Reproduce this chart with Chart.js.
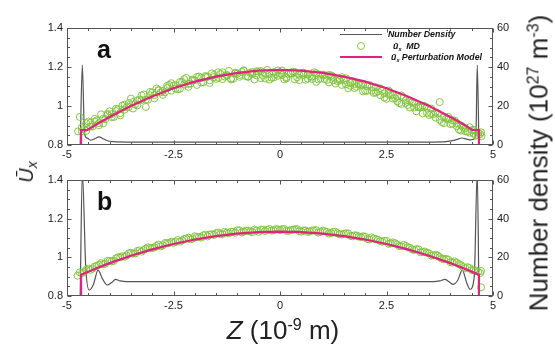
<!DOCTYPE html>
<html><head><meta charset="utf-8">
<script src="https://cdn.jsdelivr.net/npm/chart.js@4"></script>
<style>
html,body{margin:0;padding:0;background:#fff;}
body{width:555px;height:352px;position:relative;overflow:hidden;font-family:"Liberation Sans",Arial,Helvetica,sans-serif;color:#222;}
.abs{position:absolute;white-space:nowrap;}
canvas{display:block;}
.leg{position:absolute;font-weight:bold;font-style:italic;font-size:8.8px;line-height:11px;color:#111;white-space:nowrap;}
.sup{font-size:0.62em;position:relative;top:-0.55em;}
.sub{font-size:0.62em;position:relative;top:0.3em;}
</style></head><body>
<div class="abs" style="left:0;top:0;width:555px;height:165px"><canvas id="ca" width="555" height="165"></canvas></div>
<div class="abs" style="left:0;top:165px;width:555px;height:187px"><canvas id="cb" width="555" height="187"></canvas></div>

<div class="abs" style="left:97px;top:37px;font-size:25px;font-weight:bold;line-height:25px;color:#111">a</div>
<div class="abs" style="left:97px;top:189px;font-size:25px;font-weight:bold;line-height:25px;color:#111">b</div>

<div class="abs" style="left:340px;top:34px;width:42px;height:0;border-top:1.2px solid #555"></div>
<div class="leg" style="left:388px;top:29px">Number Density</div>
<div class="abs" style="left:357px;top:42px;width:6px;height:6px;border:1px solid rgba(128,195,60,0.95);border-radius:50%"></div>
<div class="leg" style="left:393px;top:41px">ū<span class="sub">x</span>&nbsp; MD</div>
<div class="abs" style="left:340px;top:56px;width:42px;height:0;border-top:2.2px solid #e0237d"></div>
<div class="leg" style="left:391px;top:52px">ū<span class="sub">x</span> Perturbation Model</div>

<div class="abs" style="left:27px;top:172px;transform:translate(-50%,-50%) rotate(-90deg);font-size:20px;font-style:italic;line-height:24px">Ū<span class="sub" style="font-size:0.7em">x</span></div>
<div class="abs" style="left:540px;top:163px;transform:translate(-50%,-50%) rotate(-90deg);font-size:26px;line-height:28px">Number density (10<span class="sup">27</span> m<span class="sup">-3</span>)</div>
<div class="abs" style="left:283px;top:331px;transform:translate(-50%,-50%);font-size:26px;line-height:30px"><i>Z</i> (10<span class="sup">-9</span> m)</div>

<script>
// ---------- data ----------
const zGrid = [-4.7,-4.6,-4.5,-4.4,-4.3,-4.2,-4.1,-4,-3.9,-3.8,-3.7,-3.6,-3.5,-3.4,-3.3,-3.2,-3.1,-3,-2.9,-2.8,-2.7,-2.6,-2.5,-2.4,-2.3,-2.2,-2.1,-2,-1.9,-1.8,-1.7,-1.6,-1.5,-1.4,-1.3,-1.2,-1.1,-1,-0.9,-0.8,-0.7,-0.6,-0.5,-0.4,-0.3,-0.2,-0.1,0,0.1,0.2,0.3,0.4,0.5,0.6,0.7,0.8,0.9,1,1.1,1.2,1.3,1.4,1.5,1.6,1.7,1.8,1.9,2,2.1,2.2,2.3,2.4,2.5,2.6,2.7,2.8,2.9,3,3.1,3.2,3.3,3.4,3.5,3.6,3.7,3.8,3.9,4,4.1,4.2,4.3,4.4,4.5,4.6,4.7];
const zHalf = [-4.65,-4.55,-4.45,-4.35,-4.25,-4.15,-4.05,-3.95,-3.85,-3.75,-3.65,-3.55,-3.45,-3.35,-3.25,-3.15,-3.05,-2.95,-2.85,-2.75,-2.65,-2.55,-2.45,-2.35,-2.25,-2.15,-2.05,-1.95,-1.85,-1.75,-1.65,-1.55,-1.45,-1.35,-1.25,-1.15,-1.05,-0.95,-0.85,-0.75,-0.65,-0.55,-0.45,-0.35,-0.25,-0.15,-0.05,0.05,0.15,0.25,0.35,0.45,0.55,0.65,0.75,0.85,0.95,1.05,1.15,1.25,1.35,1.45,1.55,1.65,1.75,1.85,1.95,2.05,2.15,2.25,2.35,2.45,2.55,2.65,2.75,2.85,2.95,3.05,3.15,3.25,3.35,3.45,3.55,3.65,3.75,3.85,3.95,4.05,4.15,4.25,4.35,4.45,4.55,4.65];

// panel a : MD velocity (three interleaved sample sets)
const mdA1 = [.944,.882,.920,.895,.926,.957,.933,.973,.944,.984,
1.002,.994,1.038,1.008,1.033,1.059,1.032,1.069,1.090,1.070,
1.070,1.108,1.104,1.086,1.123,1.144,1.115,1.132,1.151,1.122,
1.150,1.167,1.139,1.165,1.151,1.180,1.139,1.166,1.175,1.153,
1.170,1.136,1.177,1.157,1.185,1.145,1.163,1.169,1.136,1.165,
1.176,1.147,1.168,1.135,1.153,1.173,1.136,1.161,1.134,1.157,
1.115,1.132,1.131,1.091,1.127,1.098,1.109,1.078,1.107,1.067,
1.075,1.079,1.037,1.056,1.040,1.015,1.042,1.005,1.018,.973,
.992,1.000,.954,.958,.962,.917,.935,.907,.925,.879,
.891,.869,.876,.848,.856];
const mdA2 = [.870,.912,.894,.920,.901,.935,.960,.943,.974,.952,
1.007,.995,1.021,1.003,1.054,1.031,1.055,1.039,1.082,1.077,
1.104,1.079,1.107,1.088,1.138,1.113,1.136,1.108,1.143,1.154,
1.132,1.148,1.173,1.138,1.160,1.137,1.171,1.159,1.181,1.149,
1.164,1.178,1.143,1.167,1.135,1.173,1.155,1.182,1.148,1.167,
1.136,1.161,1.171,1.140,1.151,1.124,1.160,1.138,1.159,1.133,
1.139,1.108,1.142,1.104,1.113,1.118,1.075,1.102,1.079,1.096,
1.056,1.065,1.079,1.038,1.048,1.010,1.028,1.027,.992,.994,
.962,.992,.959,.967,.929,.942,.944,.909,.913,.874,
.886,.863,.878,.851];
const mdA3 = [.890,.872,.914,.934,.912,.911,.954,.958,.986,.964,
.981,1.015,.987,1.029,1.031,.995,1.072,1.056,1.080,1.057,
1.092,1.117,1.089,1.123,1.110,1.098,1.130,1.149,1.120,1.148,
1.118,1.159,1.145,1.173,1.156,1.140,1.167,1.150,1.183,1.152,
1.174,1.157,1.179,1.141,1.165,1.146,1.182,1.159,1.142,1.167,
1.174,1.133,1.159,1.161,1.139,1.168,1.140,1.158,1.121,1.150,
1.127,1.148,1.111,1.118,1.092,1.110,1.115,1.078,1.097,1.069,
1.090,1.044,1.061,1.057,1.024,1.054,1.016,.992,1.015,.996,
1.001,.965,.987,.941,1.020,.912,.933,.927,.896,.900,
.870,.891,.858,.863];
const zExtraA = [-4.74,4.73,4.72];
const mdExtraA = [0.870,0.845,0.865];

// panel b : MD velocity
const mdB1 = [.922,.924,.942,.941,.956,.970,.968,.981,.982,1.001,
1.006,1.009,1.024,1.020,1.036,1.038,1.052,1.048,1.059,1.057,
1.074,1.075,1.075,1.090,1.087,1.097,1.093,1.109,1.105,1.114,
1.108,1.119,1.125,1.120,1.132,1.124,1.132,1.140,1.129,1.138,
1.134,1.143,1.132,1.143,1.142,1.138,1.146,1.140,1.147,1.137,
1.143,1.146,1.133,1.139,1.134,1.139,1.128,1.138,1.132,1.125,
1.132,1.119,1.122,1.124,1.109,1.113,1.105,1.107,1.092,1.098,
1.091,1.081,1.085,1.072,1.073,1.058,1.064,1.052,1.041,1.042,
1.026,1.030,1.020,1.010,1.009,.993,.992,.975,.979,.965,
.950,.949,.934,.932,.919];
const mdB2 = [.919,.936,.935,.952,.962,.965,.982,.979,.995,1.000,
1.003,1.021,1.019,1.033,1.029,1.045,1.049,1.051,1.066,1.062,
1.073,1.081,1.080,1.081,1.095,1.102,1.097,1.106,1.102,1.117,
1.118,1.116,1.128,1.120,1.128,1.133,1.127,1.139,1.133,1.138,
1.130,1.139,1.143,1.136,1.147,1.139,1.145,1.146,1.137,1.141,
1.145,1.135,1.139,1.131,1.139,1.141,1.131,1.135,1.123,1.132,
1.125,1.118,1.124,1.111,1.114,1.107,1.109,1.095,1.103,1.094,
1.084,1.085,1.070,1.077,1.067,1.057,1.059,1.050,1.038,1.042,
1.027,1.024,1.009,1.013,1.001,.990,.988,.973,.972,.959,
.944,.945,.933,.925];
const zExtraB = [-4.75,4.72,4.72];
const mdExtraB = [0.905,0.930,0.845];

// perturbation model
const zModelA = [-4.67,-4.67,-4.52,-4.25,-4,-3.5,-3,-2.5,-2,-1.5,-1,-0.5,0,0.5,1,1.5,2,2.5,3,3.5,4,4.25,4.52,4.67,4.67];
const uModelA = [0.8,0.877,0.877,0.913,0.944,1.0,1.049,1.091,1.125,1.151,1.17,1.181,1.185,1.181,1.17,1.151,1.125,1.091,1.049,1.0,0.944,0.913,0.877,0.877,0.8];
const zModelB = [-4.67,-4.67,-4.5,-4.25,-4,-3.5,-3,-2.5,-2,-1.5,-1,-0.5,0,0.5,1,1.5,2,2.5,3,3.5,4,4.25,4.5,4.67,4.67];
const uModelB = [0.8,0.91,0.926,0.949,0.97,1.008,1.041,1.069,1.092,1.11,1.123,1.13,1.133,1.13,1.123,1.11,1.092,1.069,1.041,1.008,0.97,0.949,0.926,0.91,0.8];

// number density
const zDenA = [-4.69,-4.64,-4.59,-4.52,-4.45,-4.35,-4.25,-4.15,-4.05,-3.9,-3.6,0,3.6,3.9,4.05,4.15,4.27,4.38,4.48,4.55,4.6,4.63,4.67];
const denA  = [0,41,6,3.5,2.5,3.2,4.2,3.2,2.2,1.7,1.5,1.5,1.5,1.7,2.2,2.8,3.6,3,2.6,3,6,41,0];
const zDenB = [-4.69,-4.64,-4.56,-4.48,-4.38,-4.27,-4.17,-4.06,-3.95,-3.86,-3.75,-3.6,0,3.6,3.75,3.87,3.96,4.06,4.17,4.28,4.38,4.46,4.56,4.63,4.67];
const denB  = [0,64,15,3.1,6,13.4,9,5.7,7,8.6,7.8,7.4,7.4,7.4,7.8,8.6,7.5,6,8,13.4,7,3.5,10,64,0];

const xTicks = [-5,-2.5,0,2.5,5];
const uTicks = [0.8,1,1.2,1.4];
const nTicks = [0,20,40,60];

// ---------- drawing ----------
const GREEN = 'rgba(128,195,60,0.95)';
const PINK = '#e0237d';
const GRAY = '#555';
const pts = (zs, us) => us.map((u, i) => ({x: zs[i], y: u}));
const font = {family: '"Liberation Sans", Arial, sans-serif', size: 11};

const frameTicks = {
  id: 'frameTicks',
  afterDatasetsDraw(chart) {
    const {ctx, chartArea: a, scales} = chart;
    const L = Math.round(a.left) + 0.5, R = Math.round(a.right) - 0.5;
    const T = Math.round(a.top) + 0.5, B = Math.round(a.bottom) - 0.5;
    ctx.save();
    ctx.strokeStyle = '#555';
    ctx.lineWidth = 1;
    ctx.beginPath();
    for (let k = 0; k <= 20; k++) {
      const v = -5 + k * 0.5;
      const p = Math.round(scales.x.getPixelForValue(v)) + 0.5;
      const len = (k % 5 === 0) ? 4 : 2.5;
      ctx.moveTo(p, B); ctx.lineTo(p, B - len);
      ctx.moveTo(p, T); ctx.lineTo(p, T + len);
    }
    for (let k = 0; k <= 12; k++) {
      const p = Math.round(scales.y.getPixelForValue(0.8 + k * 0.05)) + 0.5;
      const len = (k % 4 === 0) ? 4 : 2.5;
      ctx.moveTo(L, p); ctx.lineTo(L + len, p);
    }
    for (let k = 0; k <= 12; k++) {
      const p = Math.round(scales.y2.getPixelForValue(k * 5)) + 0.5;
      const len = (k % 4 === 0) ? 4 : 2.5;
      ctx.moveTo(R, p); ctx.lineTo(R - len, p);
    }
    ctx.stroke();
    ctx.strokeRect(L, T, R - L, B - T);
    ctx.restore();
  }
};

function mdSet(zs, us) {
  return {type: 'scatter', data: pts(zs, us), yAxisID: 'y', showLine: false,
    pointStyle: 'circle', pointRadius: 3.5, borderWidth: 1, pointBorderWidth: 1,
    borderColor: GREEN, pointBorderColor: GREEN, backgroundColor: 'rgba(0,0,0,0)',
    pointBackgroundColor: 'rgba(0,0,0,0)', order: 2};
}

function makeChart(id, den, mds, model, padTop, xh) {
  const datasets = [
    {type: 'line', label: 'Number Density', data: den, yAxisID: 'y2', borderColor: GRAY,
     borderWidth: 1.2, pointRadius: 0, cubicInterpolationMode: 'monotone', fill: false, order: 3},
    ...mds,
    {type: 'line', label: 'Perturbation Model', data: model, yAxisID: 'y', borderColor: PINK,
     borderWidth: 2.2, pointRadius: 0, tension: 0, fill: false, order: 1}
  ];
  return new Chart(document.getElementById(id), {
    type: 'scatter',
    data: {datasets},
    options: {
      responsive: false, animation: false, devicePixelRatio: 1,
      layout: {padding: {top: padTop, left: 0, right: 0, bottom: 0}},
      plugins: {legend: {display: false}, tooltip: {enabled: false}},
      scales: {
        x: {type: 'linear', min: -5, max: 5, position: 'bottom',
            afterBuildTicks: s => { s.ticks = xTicks.map(v => ({value: v})); },
            ticks: {padding: 3, font, color: '#222', maxRotation: 0, autoSkip: false},
            grid: {display: false, drawTicks: false}, border: {display: false},
            afterFit: s => { s.height = xh; }},
        y: {type: 'linear', min: 0.8, max: 1.4, position: 'left',
            afterBuildTicks: s => { s.ticks = uTicks.map(v => ({value: v})); },
            ticks: {padding: 4, font, color: '#222', callback: v => String(+v.toFixed(2))},
            grid: {display: false, drawTicks: false}, border: {display: false},
            afterFit: s => { s.width = 67; }},
        y2: {type: 'linear', min: 0, max: 60, position: 'right',
            afterBuildTicks: s => { s.ticks = nTicks.map(v => ({value: v})); },
            ticks: {padding: 4, font, color: '#222'},
            grid: {display: false, drawTicks: false}, border: {display: false},
            afterFit: s => { s.width = 62; }}
      }
    },
    plugins: [frameTicks]
  });
}

makeChart('ca', pts(zDenA, denA),
  [mdSet(zGrid, mdA1), mdSet(zHalf, mdA2), mdSet(zHalf, mdA3), mdSet(zExtraA, mdExtraA)],
  pts(zModelA, uModelA), 28, 20);
makeChart('cb', pts(zDenB, denB),
  [mdSet(zGrid, mdB1), mdSet(zHalf, mdB2), mdSet(zExtraB, mdExtraB)],
  pts(zModelB, uModelB), 15, 56);
</script>
</body></html>
